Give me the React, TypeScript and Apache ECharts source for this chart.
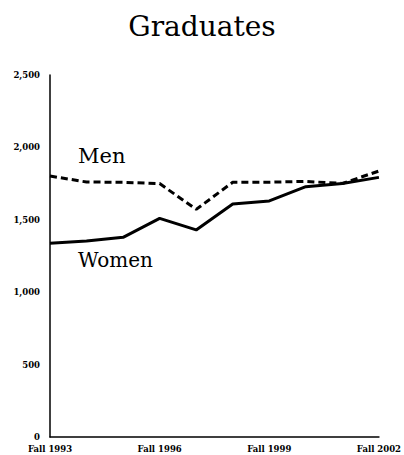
import React, { useEffect, useRef } from "react";
import * as echarts from "echarts";

const years = ["Fall 1993", "Fall 1994", "Fall 1995", "Fall 1996", "Fall 1997", "Fall 1998", "Fall 1999", "Fall 2000", "Fall 2001", "Fall 2002"];
const men = [1802, 1761, 1759, 1750, 1572, 1759, 1760, 1765, 1751, 1837];
const women = [1338, 1353, 1379, 1510, 1430, 1609, 1630, 1729, 1751, 1793];
const shownYears = ["Fall 1993", "Fall 1996", "Fall 1999", "Fall 2002"];

const FONT = "DejaVu Serif";

export default function App() {
  const ref = useRef<HTMLDivElement>(null);
  useEffect(() => {
    document.body.style.margin = "0";
    const chart = echarts.init(ref.current!, null, { renderer: "svg" });
    chart.setOption({
      animation: false,
      title: {
        text: "Graduates",
        left: "center",
        top: 7,
        textStyle: { fontFamily: FONT, fontSize: 28, fontWeight: "normal", color: "#000" },
      },
      grid: { left: 50, right: 22, top: 75, bottom: 18 },
      xAxis: {
        type: "category",
        data: years,
        boundaryGap: false,
        axisLine: { lineStyle: { color: "#000", width: 1.5 } },
        axisTick: { show: false },
        axisLabel: {
          interval: 0,
          formatter: (v: string) => (shownYears.includes(v) ? v : ""),
          fontFamily: FONT,
          fontWeight: "bold",
          fontSize: 8.5,
          color: "#000",
          margin: 7,
        },
        splitLine: { show: false },
      },
      yAxis: {
        type: "value",
        min: 0,
        max: 2500,
        interval: 500,
        axisLine: { show: true, lineStyle: { color: "#000", width: 1.5 } },
        axisTick: { show: false },
        splitLine: { show: false },
        axisLabel: {
          fontFamily: FONT,
          fontWeight: "bold",
          fontSize: 8.5,
          color: "#000",
          margin: 10,
          formatter: (v: number) => v.toLocaleString("en-US"),
        },
      },
      series: [
        {
          name: "Men",
          type: "line",
          data: men,
          symbol: "none",
          lineStyle: { color: "#000", width: 3, type: [7, 4] },
        },
        {
          name: "Women",
          type: "line",
          data: women,
          symbol: "none",
          lineStyle: { color: "#000", width: 3 },
        },
      ],
      graphic: [
        { type: "text", left: 78, top: 145, style: { text: "Men", font: `21px '${FONT}'`, fill: "#000" } },
        { type: "text", left: 78, top: 250, style: { text: "Women", font: `20px '${FONT}'`, fill: "#000" } },
      ],
    });
    return () => chart.dispose();
  }, []);
  return <div ref={ref} style={{ position: "absolute", left: 0, top: 0, width: 404, height: 455 }} />;
}
